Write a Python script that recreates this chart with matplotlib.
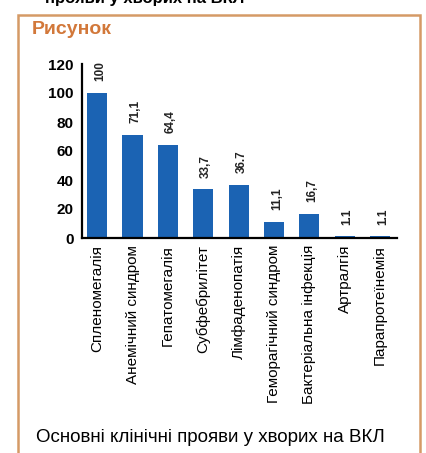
import matplotlib
matplotlib.use('Agg')
import matplotlib.pyplot as plt
from matplotlib.patches import Rectangle

plt.rcParams['font.family'] = ['Liberation Sans Narrow', 'Liberation Sans', 'DejaVu Sans']

# data
categories = ['Спленомегалія', 'Анемічний синдром', 'Гепатомегалія', 'Субфебрилітет',
              'Лімфаденопатія', 'Геморагічний синдром', 'Бактеріальна інфекція',
              'Артралгія', 'Парапротеїнемія']
values = [100, 71.1, 64.4, 33.7, 36.7, 11.1, 16.7, 1.1, 1.1]
value_labels = ['100', '71,1', '64,4', '33,7', '36.7', '11,1', '16,7', '1.1', '1.1']
y_ticks = [0, 20, 40, 60, 80, 100, 120]

W, H = 427, 453
fig = plt.figure(figsize=(W / 100, H / 100), dpi=100)

# frame around the figure block
frame_col = '#d59a66'
fig.add_artist(Rectangle((18 / W, -0.01), 402 / W, 1 - 15 / H + 0.01, transform=fig.transFigure,
                         fill=False, edgecolor=frame_col, linewidth=1.8))
fig.text(32 / W, 1 - 30 / H, 'Рисунок', color='#d2783a', fontsize=14, fontweight='bold',
         ha='left', va='center', family=['Liberation Sans', 'DejaVu Sans'])
# heading of the page, cut off by the top edge
fig.text(45 / W, 1 + 1 / H, 'прояви у хворих на ВКЛ', color='black', fontsize=12,
         fontweight='bold', ha='left', va='center', family=['Liberation Sans', 'DejaVu Sans'])
fig.text(36 / W, 1 - 437 / H, 'Основні клінічні прояви у хворих на ВКЛ', color='black',
         fontsize=13.5, ha='left', va='center', family=['Liberation Sans', 'DejaVu Sans'])

ax = fig.add_axes([82 / W, 1 - 238 / H, (397 - 82) / W, (238 - 64) / H])
x = list(range(len(categories)))
ax.bar(x, values, width=0.57, color='#1b63b3', zorder=2)
for xi, v, lab in zip(x, values, value_labels):
    ax.text(xi + 0.08, v + 8, lab, rotation=90, ha='center', va='bottom', fontsize=8.5,
            fontweight='bold', color='#222222')

ax.set_xlim(-0.43, 8.48)
ax.set_ylim(0, 120)
ax.set_yticks(y_ticks)
ax.set_yticklabels([str(t) for t in y_ticks], fontsize=11, fontweight='bold',
                   family=['Liberation Sans', 'DejaVu Sans'])
ax.set_xticks(x)
ax.set_xticklabels(categories, rotation=90, fontsize=11, va='top', ha='center')
ax.tick_params(axis='x', length=0, pad=5)
ax.tick_params(axis='y', length=0, pad=6)
for s in ['top', 'right']:
    ax.spines[s].set_visible(False)
ax.spines['left'].set_linewidth(1.6)
ax.spines['bottom'].set_linewidth(1.6)

fig.savefig('out.png', dpi=100)
